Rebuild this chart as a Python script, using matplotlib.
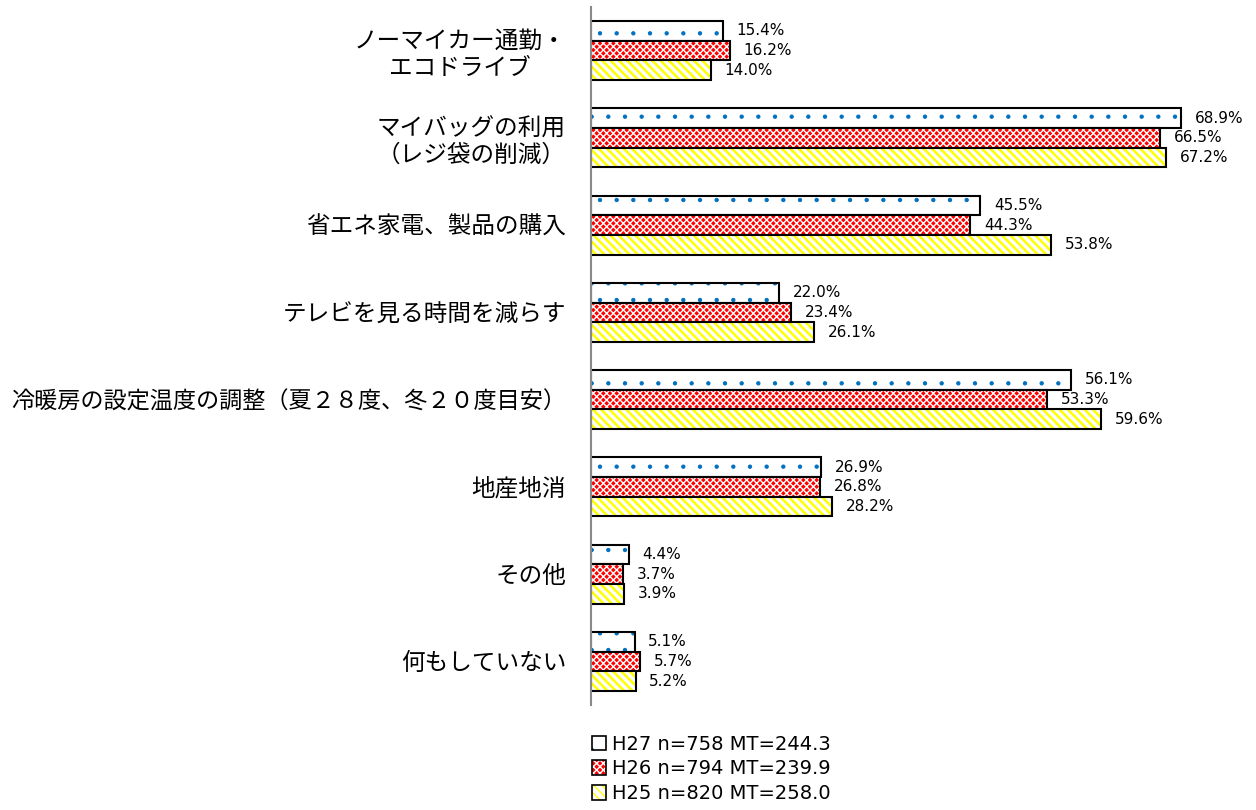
import matplotlib.pyplot as plt
import numpy as np
from matplotlib.patches import Patch

plt.rcParams["font.family"] = ["Noto Sans CJK JP", "DejaVu Sans"]

categories = [
    "ノーマイカー通勤・\nエコドライブ",
    "マイバッグの利用\n（レジ袋の削減）",
    "省エネ家電、製品の購入",
    "テレビを見る時間を減らす",
    "冷暖房の設定温度の調整（夏２８度、冬２０度目安）",
    "地産地消",
    "その他",
    "何もしていない",
]
h27 = [15.4, 68.9, 45.5, 22.0, 56.1, 26.9, 4.4, 5.1]
h26 = [16.2, 66.5, 44.3, 23.4, 53.3, 26.8, 3.7, 5.7]
h25 = [14.0, 67.2, 53.8, 26.1, 59.6, 28.2, 3.9, 5.2]
series_labels = ["H27 n=758 MT=244.3", "H26 n=794 MT=239.9", "H25 n=820 MT=258.0"]

# (face colour, hatch colour, hatch pattern, hatch line width) per series
styles = [
    ("white", "#0070C0", ".", 0.7),
    ("#FF0000", "white", "xxxxx", 1.0),
    ("white", "#FFFF00", "\\\\\\\\", 1.8),
]

fig = plt.figure(figsize=(12.56, 8.10), dpi=100)
ax = fig.add_axes([591 / 1256, 1 - 705 / 810, 665 / 1256, 698 / 810])

y = np.arange(len(categories))
bar_h = 0.225
offsets = [-bar_h, 0, bar_h]

for values, off, (face, hcol, hatch, hlw) in zip([h27, h26, h25], offsets, styles):
    pos = y + off
    with plt.rc_context({"hatch.linewidth": hlw}):
        ax.barh(pos, values, height=bar_h, color=face, edgecolor=hcol,
                hatch=hatch, linewidth=0)
    ax.barh(pos, values, height=bar_h, fill=False, edgecolor="black",
            linewidth=1.5)
    for yy, v in zip(pos, values):
        ax.text(v + 1.6, yy, f"{v:.1f}%", va="center", ha="left",
                fontsize=11, family=["DejaVu Sans"])

ax.set_xlim(0, 77.7)
ax.set_ylim(len(categories) - 0.5, -0.5)
ax.set_yticks(y)
ax.set_yticklabels(categories, fontsize=17, multialignment="center")
ax.get_yticklabels()[4].set_fontsize(16.7)  # longest label, keep inside figure
ax.tick_params(axis="y", length=0, pad=18)
ax.set_xticks([])
for side in ["top", "right", "bottom"]:
    ax.spines[side].set_visible(False)
ax.spines["left"].set_color("#888888")
ax.spines["left"].set_linewidth(1.5)

handles = []
for face, hcol, hatch, hlw in styles:
    with plt.rc_context({"hatch.linewidth": hlw}):
        fill = Patch(facecolor=face, edgecolor=hcol, hatch=hatch, linewidth=0)
    outline = Patch(fill=False, edgecolor="black", linewidth=1.2)
    handles.append((fill, outline))

fig.legend(handles, series_labels, loc="upper left",
           bbox_to_anchor=(574 / 1256, 1 - 717 / 810), frameon=False,
           handlelength=0.75, handleheight=0.75, handletextpad=0.3,
           labelspacing=0.3, prop={"family": "DejaVu Sans", "size": 14})

fig.savefig("out.png", dpi=100)
